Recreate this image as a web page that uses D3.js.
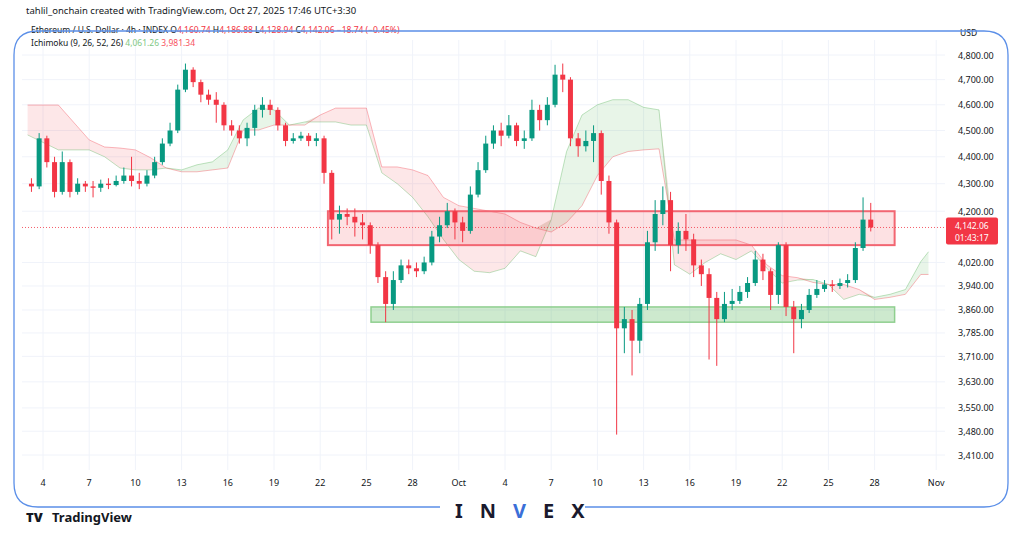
<!DOCTYPE html>
<html><head><meta charset="utf-8">
<script src="https://cdn.jsdelivr.net/npm/d3@7"></script>
<style>body{margin:0;background:#fff}svg{display:block;font-family:"Noto Sans",Roboto,sans-serif}</style>
</head><body><svg id="c" width="1024" height="538"></svg>
<script>
// 12h candles starting Sep 3 2025 00:00 (UTC), half-day steps
const closes=[4290,4470,4380,4270,4380,4270,4300,4290,4285,4300,4295,4310,4330,4310,4300,4330,4380,4450,4500,4660,4740,4690,4640,4620,4600,4520,4500,4470,4510,4580,4600,4580,4520,4460,4470,4480,4460,4470,4340,4170,4190,4180,4160,4150,4080,3970,3880,3960,4010,4000,3990,4020,4110,4150,4200,4160,4130,4260,4350,4450,4500,4480,4520,4460,4470,4580,4540,4600,4720,4700,4470,4440,4460,4490,4310,4160,3800,3830,3760,3880,4090,4190,4240,4080,4130,4100,4010,3980,3900,3830,3880,3890,3920,3950,4030,3990,3910,4080,3870,3830,3860,3910,3930,3945,3940,3950,3960,4070,4170,4142];
const highs=[4320,4490,4480,4400,4420,4390,4320,4310,4310,4315,4320,4330,4360,4400,4340,4350,4400,4470,4530,4680,4765,4750,4700,4660,4650,4610,4540,4520,4530,4600,4630,4620,4590,4530,4490,4495,4490,4490,4480,4350,4220,4210,4210,4190,4160,4090,3990,3990,4030,4030,4020,4040,4130,4180,4230,4210,4180,4290,4380,4480,4520,4530,4560,4530,4500,4620,4600,4630,4760,4765,4710,4490,4500,4520,4500,4330,4170,3870,3860,3900,4130,4240,4290,4270,4160,4190,4120,4030,4000,3920,3920,3930,3940,3970,4060,4050,4000,4090,4090,3890,3880,3930,3960,3960,3960,3965,3980,4090,4250,4230];
const lows=[4270,4280,4360,4250,4260,4250,4260,4270,4250,4270,4280,4290,4300,4290,4280,4290,4320,4370,4440,4490,4650,4670,4610,4600,4530,4500,4480,4450,4440,4480,4550,4560,4500,4440,4450,4460,4440,4440,4300,4100,4120,4150,4110,4100,4050,3950,3820,3860,3950,3980,3970,3980,4010,4090,4140,4100,4090,4120,4250,4340,4430,4440,4470,4440,4430,4460,4500,4520,4590,4650,4440,4400,4420,4380,4260,4120,3470,3720,3650,3720,3860,4060,4150,3990,4050,4060,3970,3940,3700,3680,3820,3860,3880,3900,3940,3960,3860,3880,3840,3720,3800,3850,3900,3920,3920,3930,3935,3950,4060,4128];
const firstOpen=4300;
// Ichimoku cloud, day offsets from Sep 3
const cloudDays=[0,2,4,5,6,7,8,9,10,11,12,13,14,15,16,17,18,19,20,21,22,23,24,25,26,27,28,29,30,31,32,33,34,35,36,37,38,39,40,41,42,43,44,45,46,47,48,49,50,51,52,53,54,55,56,57,58,58.5];
const spanA=[4483,4426,4426,4400,4358,4351,4351,4358,4351,4370,4381,4426,4541,4587,4580,4521,4533,4533,4533,4521,4521,4340,4300,4250,4180,4100,4030,3990,3985,4000,4060,4040,4170,4420,4560,4600,4620,4620,4590,4580,4012,3980,4020,4050,4030,4060,4000,3950,3960,3962,3945,3895,3912,3902,3912,3928,4023,4057];
const spanB=[4599,4599,4464,4437,4433,4426,4396,4358,4344,4344,4351,4358,4502,4502,4521,4521,4521,4560,4587,4587,4587,4362,4362,4351,4330,4250,4220,4210,4200,4190,4160,4140,4126,4160,4220,4330,4400,4420,4426,4430,4098,4098,4098,4098,4098,4080,4012,3975,3968,3952,3945,3945,3928,3895,3902,3912,3979,3979];
const yTicks=[4800,4700,4600,4500,4400,4300,4200,4020,3940,3860,3785,3710,3630,3550,3480,3410];
const xTickDays=[1,4,7,10,13,16,19,22,25,28,31,34,37,40,43,46,49,52,55,59];
const xTickLabels=["4","7","10","13","16","19","22","25","28","Oct","4","7","10","13","16","19","22","25","28","Nov"];
const lastPrice=4142.06, countdown="01:43:17";
const resistance=[4080,4200], support=[3820,3870];

const svg=d3.select("#c");
const x=d3.scaleLinear().domain([0,1]).range([27.6,43]); // one day
const xs=d=>x(d);
const y=d3.scaleLog().domain([4800,3410]).range([55,455]);
const L=22,R=945,T=40,B=470;
const g=svg.append("g");
g.selectAll(".vg").data(xTickDays).join("line").attr("x1",xs).attr("x2",xs).attr("y1",T).attr("y2",B).attr("stroke","#f0f3fa");
g.selectAll(".hg").data(yTicks).join("line").attr("x1",L).attr("x2",R).attr("y1",y).attr("y2",y).attr("stroke","#f0f3fa");
const pts=cloudDays.map((d,i)=>({d,a:spanA[i],b:spanB[i]}));
const areaG=d3.area().x(p=>xs(p.d)).y0(p=>y(p.b)).y1(p=>y(Math.max(p.a,p.b)));
const areaR=d3.area().x(p=>xs(p.d)).y0(p=>y(p.a)).y1(p=>y(Math.max(p.a,p.b)));
g.append("path").attr("d",areaG(pts)).attr("fill","rgba(76,175,80,0.13)");
g.append("path").attr("d",areaR(pts)).attr("fill","rgba(242,54,69,0.12)");
const ln=k=>d3.line().x(p=>xs(p.d)).y(p=>y(p[k]))(pts);
g.append("path").attr("d",ln("a")).attr("fill","none").attr("stroke","rgba(76,175,80,0.35)");
g.append("path").attr("d",ln("b")).attr("fill","none").attr("stroke","rgba(242,54,69,0.35)");
g.append("rect").attr("x",xs(19.5)).attr("width",xs(56.3)-xs(19.5)).attr("y",y(resistance[1])).attr("height",y(resistance[0])-y(resistance[1])).attr("fill","rgba(242,54,69,0.15)").attr("stroke","#f26672").attr("stroke-width",2);
g.append("rect").attr("x",xs(22.3)).attr("width",xs(56.3)-xs(22.3)).attr("y",y(support[1])).attr("height",y(support[0])-y(support[1])).attr("fill","rgba(76,175,80,0.28)").attr("stroke","#8fcf8f").attr("stroke-width",1.5);
g.append("line").attr("x1",L).attr("x2",R).attr("y1",y(lastPrice)).attr("y2",y(lastPrice)).attr("stroke","#f23645").attr("stroke-dasharray","1,2").attr("opacity",.8);
const cd=closes.map((c,i)=>({t:i*0.5,o:i?closes[i-1]:firstOpen,c,h:highs[i],l:lows[i]}));
const cg=g.selectAll(".cd").data(cd).join("g").attr("stroke",d=>d.c>=d.o?"#089981":"#f23645").attr("fill",d=>d.c>=d.o?"#089981":"#f23645");
cg.append("line").attr("x1",d=>xs(d.t+0.25)).attr("x2",d=>xs(d.t+0.25)).attr("y1",d=>y(d.h)).attr("y2",d=>y(d.l));
cg.append("rect").attr("x",d=>xs(d.t+0.25)-2.5).attr("width",5).attr("y",d=>y(Math.max(d.o,d.c))).attr("height",d=>Math.max(1,Math.abs(y(d.o)-y(d.c)))).attr("stroke","none");
g.selectAll(".yl").data(yTicks).join("text").attr("x",958).attr("y",d=>y(d)+3.5).attr("font-size",9).attr("fill","#131722").text(d3.format(",.2f"));
svg.append("text").attr("x",960).attr("y",36).attr("font-size",8.5).attr("fill","#131722").text("USD");
g.selectAll(".xl").data(xTickDays).join("text").attr("x",xs).attr("y",486).attr("text-anchor","middle").attr("font-size",9).attr("fill","#131722").text((d,i)=>xTickLabels[i]);
svg.append("rect").attr("x",946).attr("y",y(lastPrice)-10).attr("width",52).attr("height",27).attr("fill","#f23645").attr("rx",2);
svg.append("text").attr("x",955).attr("y",y(lastPrice)+2).attr("font-size",8.5).attr("fill","#fff").text(d3.format(",.2f")(lastPrice));
svg.append("text").attr("x",955).attr("y",y(lastPrice)+14).attr("font-size",8.5).attr("fill","#fff").text(countdown);
svg.append("text").attr("x",26).attr("y",14).attr("font-size",9.5).attr("fill","#131722").text("tahlil_onchain created with TradingView.com, Oct 27, 2025 17:46 UTC+3:30");
const t1=svg.append("text").attr("x",31).attr("y",33).attr("font-size",8.5).attr("fill","#131722");
t1.append("tspan").text("Ethereum / U.S. Dollar · 4h · INDEX  O");
t1.append("tspan").attr("fill","#f23645").text("4,160.74");t1.append("tspan").text("  H");
t1.append("tspan").attr("fill","#f23645").text("4,186.88");t1.append("tspan").text("  L");
t1.append("tspan").attr("fill","#f23645").text("4,128.94");t1.append("tspan").text("  C");
t1.append("tspan").attr("fill","#f23645").text("4,142.06  −18.74 (−0.45%)");
const t2=svg.append("text").attr("x",31).attr("y",46).attr("font-size",8.5).attr("fill","#131722");
t2.append("tspan").text("Ichimoku (9, 26, 52, 26)  ");
t2.append("tspan").attr("fill","#81c784").text("4,061.26  ");
t2.append("tspan").attr("fill","#f7525f").text("3,981.34");
svg.append("path").attr("d","M440,507 H38 Q14,507 14,483 V55 Q14,31 38,31 H984 Q1008,31 1008,55 V483 Q1008,507 984,507 H585").attr("fill","none").attr("stroke","#5b8fe8").attr("stroke-width",1.3);
const inv=svg.append("text").attr("x",455).attr("y",518).attr("font-size",20).attr("font-weight",700).attr("letter-spacing",17).attr("fill","#1a1a2e");
inv.append("tspan").text("IN");inv.append("tspan").attr("fill","#3b6fd8").text("V");inv.append("tspan").text("EX");
svg.append("text").attr("x",26).attr("y",522).attr("font-size",13).attr("font-weight",900).attr("fill","#131722").text("TV");
svg.append("text").attr("x",52).attr("y",522).attr("font-size",13).attr("font-weight",700).attr("fill","#131722").text("TradingView");
</script></body></html>
